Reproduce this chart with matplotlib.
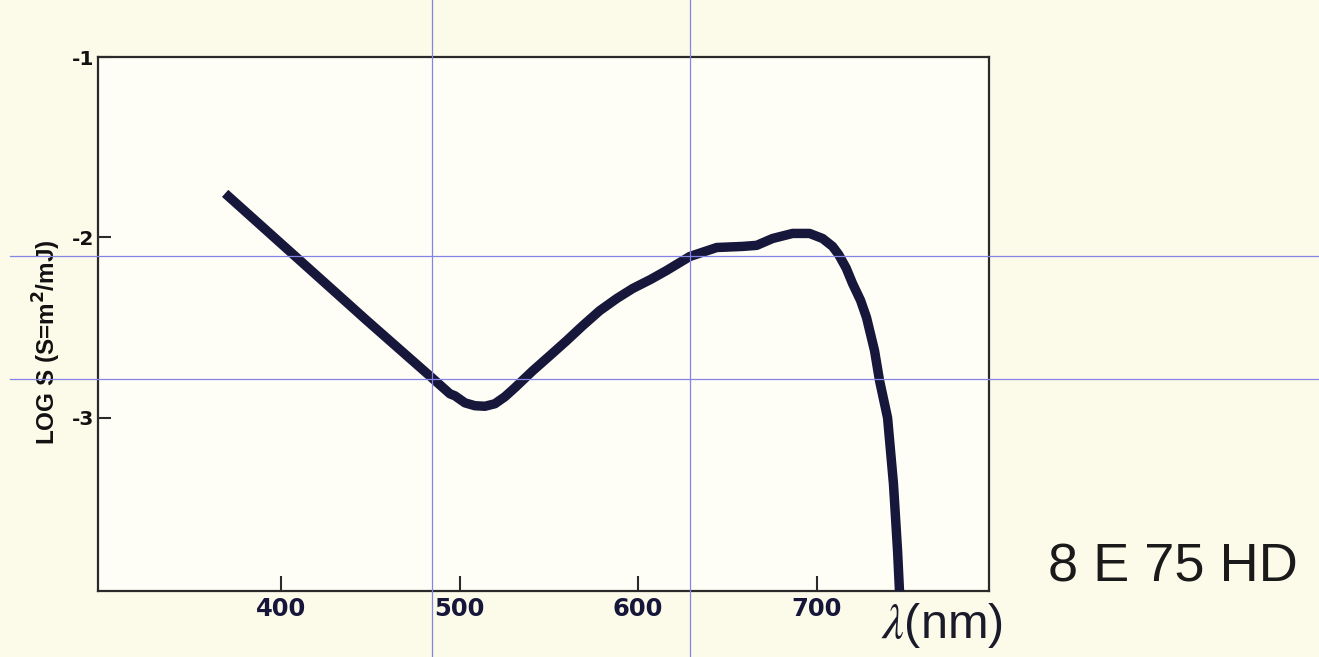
import matplotlib
matplotlib.use("Agg")
import matplotlib.pyplot as plt
from matplotlib.lines import Line2D

# Data (wavelength nm, log S)
wavelength = [368.7, 410.6, 448.1, 484.5, 494.6, 497.4, 503.0, 508.6, 514.2,
              519.8, 525.4, 531.0, 541.0, 550.5, 560.0, 569.0, 578.5, 588.0,
              597.0, 607.0, 616.0, 628.9, 644.0, 658.5, 666.4, 675.3, 686.5,
              696.0, 703.3, 708.9, 712.3, 716.5, 720.1, 724.6, 727.9, 732.4,
              735.2, 739.7, 743.0, 745.3, 746.4]
log_s = [-1.756, -2.128, -2.461, -2.778, -2.867, -2.878, -2.917, -2.933, -2.936,
         -2.922, -2.883, -2.833, -2.739, -2.656, -2.572, -2.489, -2.406, -2.339,
         -2.283, -2.233, -2.183, -2.106, -2.056, -2.050, -2.044, -2.006, -1.978,
         -1.978, -2.006, -2.050, -2.095, -2.170, -2.256, -2.350, -2.444, -2.628,
         -2.794, -3.000, -3.367, -3.739, -3.967]

x_ticks = [400, 500, 600, 700]
x_ticklabels = ["400", "500", "600", "700"]
y_ticks = [-1, -2, -3]
y_ticklabels = ["-1", "-2", "-3"]

W, H = 1319, 657
fig = plt.figure(figsize=(W / 100, H / 100), dpi=100, facecolor="#fcfae8")
ax = fig.add_axes([98 / W, 1 - 591 / H, (989 - 98) / W, (591 - 57) / H])
ax.set_facecolor("#fffef6")

ax.plot(wavelength, log_s, color="#16173a", lw=6.8, solid_capstyle="butt",
        solid_joinstyle="round", zorder=3)

ax.set_xlim(297.5, 796.5)
ax.set_ylim(-3.96, -1.0)

for s in ax.spines.values():
    s.set_linewidth(1.6)
    s.set_color("#2a2a2a")

ax.set_xticks(x_ticks)
ax.set_xticklabels(x_ticklabels, fontfamily="DejaVu Sans", fontweight="bold",
                   fontsize=17.5, color="#15163a")
ax.set_yticks(y_ticks)
ax.set_yticklabels(y_ticklabels, fontfamily="DejaVu Sans", fontweight="bold",
                   fontsize=14.5, color="#111111")
ax.tick_params(axis="x", direction="in", length=11, width=1.5, pad=4, color="#2a2a2a")
ax.tick_params(axis="y", direction="in", length=9.5, width=1.5, pad=3, color="#2a2a2a")

fig.text(47 / W, 1 - 342 / H, "LOG S (S=m$^\\mathbf{2}$/mJ)", rotation=90,
         ha="center", va="center", fontfamily="Liberation Sans",
         fontweight="bold", fontsize=17.5, color="#111111")

plt.rcParams["mathtext.fontset"] = "stix"
fig.text(942 / W, 1 - 625 / H, r"$\lambda$(nm)", ha="center", va="center",
         fontfamily="Liberation Sans", fontsize=35, color="#1a1a2a")
fig.text(1173 / W, 1 - 568 / H, "8 E 75 HD", ha="center", va="center",
         fontfamily="Liberation Sans", fontsize=39, color="#1a1a1a")

# Blue overlay guide lines from the scan
blue = "#8484e6"
for xv in [432, 690]:
    fig.add_artist(Line2D([xv / W, xv / W], [0, 1], transform=fig.transFigure,
                          color=blue, lw=0.9, zorder=10))
for yv in [256, 379]:
    fig.add_artist(Line2D([10 / W, 1], [1 - yv / H, 1 - yv / H],
                          transform=fig.transFigure, color=blue, lw=0.9, zorder=10))

fig.savefig("out.png", dpi=100, facecolor=fig.get_facecolor())
